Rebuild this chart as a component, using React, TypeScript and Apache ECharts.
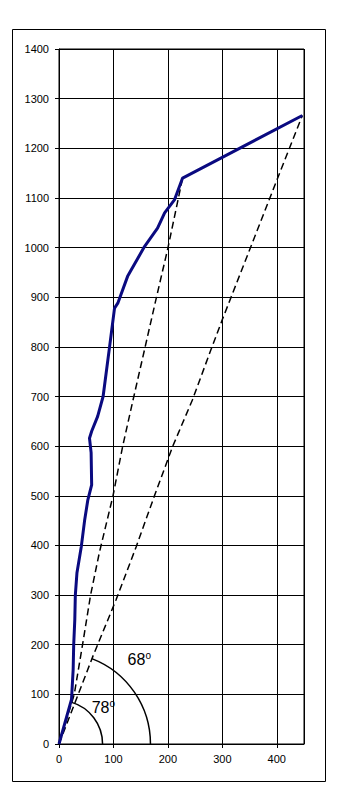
import React, { useEffect, useRef } from "react";
import * as echarts from "echarts";

// Blue measured curve
const blueCurve: [number, number][] = [
  [0, 0], [23, 90], [26, 150], [27, 200], [29, 250], [30, 300], [33, 345],
  [41, 398], [47, 450], [53, 492], [60, 522], [59, 587], [56, 616],
  [60, 630], [71, 660], [81, 700], [93, 801], [102, 878], [108, 888],
  [126, 942], [157, 1002], [181, 1039], [194, 1070], [212, 1096],
  [227, 1140], [447, 1266],
];

// Steep dashed line (78°)
const steepDashed: [number, number][] = [
  [0, 0], [28, 100], [44, 205], [58, 300], [74, 385], [99, 499],
  [117, 600], [136, 693], [157, 794], [178, 895], [200, 999], [227, 1140],
];

// Shallow dashed line (68°)
const shallowDashed: [number, number][] = [
  [0, 0], [62, 176], [105, 291], [142, 398], [175, 499], [209, 600],
  [245, 693], [279, 794], [300, 855], [331, 942], [398, 1130], [447, 1266],
];

// Angle arcs: [radius in x-units, angle in degrees]
const arcs: [number, number][] = [
  [80, 74],
  [168, 69],
];

const angleLabels = ["78", "68"];

const xTicks = { min: 0, max: 450, interval: 100 };
const yTicks = { min: 0, max: 1400, interval: 100 };

export default function App() {
  const ref = useRef<HTMLDivElement>(null);

  useEffect(() => {
    document.body.style.margin = "0";
    const chart = echarts.init(ref.current!, null, { renderer: "svg" });
    const font = "Arial, 'Liberation Sans', sans-serif";
    const labelPositions: [number, number][] = [
      [60, 73],
      [126, 170],
    ];
    chart.setOption({
      animation: false,
      backgroundColor: "#fff",
      grid: {
        left: 59,
        top: 49,
        width: 245,
        height: 695,
        show: true,
        borderColor: "#000",
        borderWidth: 1,
        containLabel: false,
      },
      xAxis: {
        type: "value",
        min: xTicks.min,
        max: xTicks.max,
        interval: xTicks.interval,
        axisLine: { lineStyle: { color: "#000", width: 1 } },
        axisTick: { show: true, length: 4, lineStyle: { color: "#000" } },
        axisLabel: {
          color: "#000",
          fontSize: 11,
          fontFamily: font,
          margin: 9,
          showMaxLabel: false,
          formatter: (v: number) => String(v),
        },
        splitLine: { show: true, lineStyle: { color: "#000", width: 1 } },
      },
      yAxis: {
        type: "value",
        min: yTicks.min,
        max: yTicks.max,
        interval: yTicks.interval,
        axisLine: { show: true, lineStyle: { color: "#000", width: 1 } },
        axisTick: { show: true, length: 4, lineStyle: { color: "#000" } },
        axisLabel: {
          color: "#000",
          fontSize: 11,
          fontFamily: font,
          margin: 10,
          formatter: (v: number) => String(v),
        },
        splitLine: { show: true, lineStyle: { color: "#000", width: 1 } },
      },
      graphic: [
        {
          type: "rect",
          shape: { x: 12.5, y: 29.5, width: 313, height: 752 },
          style: { fill: "none", stroke: "#000", lineWidth: 1 },
          z: 100,
        },
      ],
      series: [
        {
          type: "line",
          data: steepDashed,
          symbol: "none",
          lineStyle: { color: "#000", width: 1.5, type: [7, 4] },
          z: 3,
        },
        {
          type: "line",
          data: shallowDashed,
          symbol: "none",
          lineStyle: { color: "#000", width: 1.5, type: [7, 4] },
          z: 3,
        },
        {
          type: "custom",
          data: arcs,
          clip: false,
          z: 4,
          renderItem: (params: any, api: any) => {
            const c = api.coord([0, 0]);
            const r = api.size([api.value(0), 0])[0];
            const a = api.value(1);
            const i = params.dataIndex;
            const lp = api.coord(labelPositions[i]);
            return {
              type: "group",
              children: [
                {
                  type: "arc",
                  shape: {
                    cx: c[0],
                    cy: c[1],
                    r,
                    startAngle: (-a * Math.PI) / 180,
                    endAngle: 0,
                    clockwise: true,
                  },
                  style: { stroke: "#000", lineWidth: 1.5, fill: null },
                },
                {
                  type: "text",
                  x: lp[0],
                  y: lp[1],
                  style: {
                    text: "{n|" + angleLabels[i] + "}{s|o}",
                    verticalAlign: "middle",
                    rich: {
                      n: { fontSize: 16, fontFamily: font, fill: "#000", lineHeight: 18 },
                      s: {
                        fontSize: 10,
                        fontFamily: font,
                        fill: "#000",
                        lineHeight: 18,
                        padding: [0, 0, 9, 0],
                      },
                    },
                  },
                },
              ],
            };
          },
        },
        {
          type: "line",
          data: blueCurve,
          symbol: "none",
          lineStyle: { color: "#0a0a80", width: 3 },
          z: 5,
        },
      ],
    });
    return () => chart.dispose();
  }, []);

  return (
    <div
      ref={ref}
      style={{ position: "absolute", left: 0, top: 0, width: 340, height: 796, background: "#fff" }}
    />
  );
}
